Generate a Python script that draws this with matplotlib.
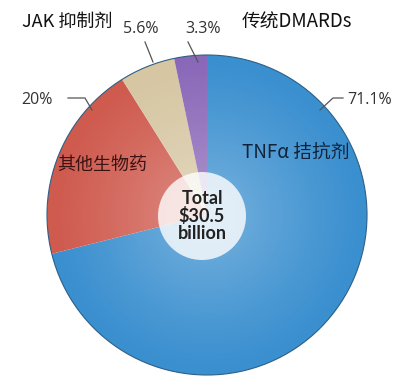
import numpy as np
import matplotlib.pyplot as plt
from matplotlib.patches import Circle

plt.rcParams['font.family'] = ['Noto Sans CJK SC', 'DejaVu Sans']

labels = ['TNFα 拮抗剂', '其他生物药', 'JAK 抑制剂', '传统DMARDs']
shares = [71.1, 20.0, 5.6, 3.3]
pct_labels = ['71.1%', '20%', '5.6%', '3.3%']
colors = ['#3a8fcf', '#cf5a4e', '#d6c6a2', '#8a68b8']
total_text = 'Total\n$30.5\nbillion'

W, H = 400, 382
fig = plt.figure(figsize=(W / 100, H / 100), dpi=100)
ax = fig.add_axes([0, 0, 1, 1])

cx, cy, r = 207, 215, 160

# pie drawn in flipped axes: counterclock=True looks clockwise on screen
ax.pie(shares, colors=colors, startangle=-90, counterclock=True,
       center=(cx, cy), radius=r, frame=True,
       wedgeprops=dict(edgecolor='none'))
ax.set_xlim(0, W)
ax.set_ylim(H, 0)
ax.set_aspect('auto')
ax.axis('off')

# soft radial highlight
n = 400
yy, xx = np.mgrid[0:n, 0:n]
d = np.hypot(xx - n / 2, yy - n / 2) / (n / 2)
img = np.zeros((n, n, 4))
img[..., :3] = 1.0
img[..., 3] = np.clip(0.32 * (1 - d) ** 1.2, 0, 1)
im = ax.imshow(img, extent=(cx - r, cx + r, cy + r, cy - r), zorder=3)
im.set_clip_path(Circle((cx, cy), r, transform=ax.transData))
ax.add_patch(Circle((cx, cy), r, fill=False, ec='#2f5f86', lw=0.8, zorder=4))

# centre disc
ax.add_patch(Circle((202, 216), 44, fc='white', alpha=0.8, ec='none', zorder=5))
ax.text(202, 216, total_text, ha='center', va='center', fontsize=13,
        fontweight='bold', color='#222222', linespacing=1.0, zorder=6,
        family=['Lato', 'DejaVu Sans'])

# category labels
ax.text(22, 22, labels[2], fontsize=13, va='center', ha='left', color='#111111')
ax.text(242, 22, labels[3], fontsize=13.5, va='center', ha='left', color='#111111')
ax.text(57, 165, labels[1], fontsize=13, va='center', ha='left', color='#3a1414', zorder=6)
ax.text(242, 152, labels[0], fontsize=13.5, va='center', ha='left', color='#122238', zorder=6)

# percentage labels with leader lines
pct_pos = [(347, 100), (21, 100), (123, 29), (185, 29)]
leaders = [[(343, 98), (333, 98), (320, 110)],
           [(68, 98), (85, 98), (92, 110)],
           [(145, 42), (153, 62)],
           [(188, 42), (198, 62)]]
for txt, (px, py), pts in zip(pct_labels, pct_pos, leaders):
    ax.text(px, py, txt, fontsize=11.5, ha='left', va='center', color='#333333', zorder=6,
            family=['Open Sans', 'DejaVu Sans'])
    xs, ys = zip(*pts)
    ax.plot(xs, ys, color='#555555', lw=0.9, zorder=6)

fig.savefig('out.png', dpi=100, facecolor='white')
